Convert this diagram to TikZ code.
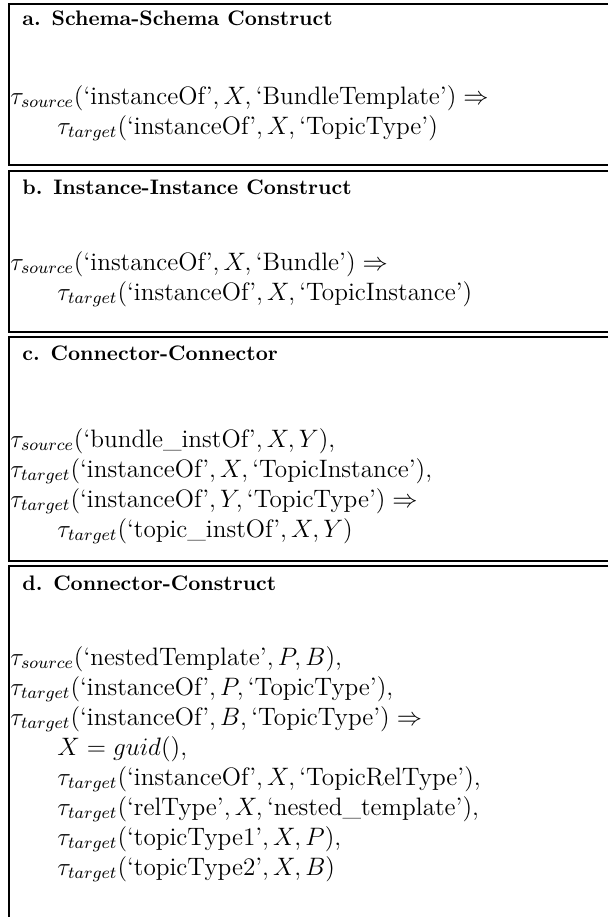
\documentclass[tikz,border=0pt]{standalone}
\usepackage{tikz}
\tikzset{
  frame/.style={line width=0.9pt},
  ttl/.style={anchor=base west, inner sep=0pt, font=\normalsize\bfseries},
  fl/.style={anchor=base west, inner sep=0pt, font=\large}
}
\begin{document}
\begin{tikzpicture}[x=0.476pt,y=-0.476pt]
\useasboundingbox (0,0) rectangle (608,917);
% frames
\draw[frame] (608,4) -- (9,4) -- (9,165) -- (608,165);
\draw[frame] (608,171) -- (9,171) -- (9,332) -- (608,332);
\draw[frame] (608,337) -- (9,337) -- (9,561) -- (608,561);
\draw[frame] (608,566) -- (9,566) -- (9,917);
% a
\node[ttl] (ta) at (22,25) {a. Schema-Schema Construct};
\node[fl] (a1) at (10,104) {$\tau_{source}(\mbox{`instanceOf'}, X, \mbox{`BundleTemplate'}) \Rightarrow$};
\node[fl] (a2) at (57,134) {$\tau_{target}(\mbox{`instanceOf'}, X, \mbox{`TopicType'})$};
% b
\node[ttl] (tb) at (22,194) {b. Instance-Instance Construct};
\node[fl] (b1) at (10,270) {$\tau_{source}(\mbox{`instanceOf'}, X, \mbox{`Bundle'}) \Rightarrow$};
\node[fl] (b2) at (57,300) {$\tau_{target}(\mbox{`instanceOf'}, X, \mbox{`TopicInstance'})$};
% c
\node[ttl] (tc) at (22,360) {c. Connector-Connector};
\node[fl] (c1) at (10,447) {$\tau_{source}(\mbox{`bundle\_instOf'}, X, Y),$};
\node[fl] (c2) at (10,477) {$\tau_{target}(\mbox{`instanceOf'}, X, \mbox{`TopicInstance'}),$};
\node[fl] (c3) at (10,507) {$\tau_{target}(\mbox{`instanceOf'}, Y, \mbox{`TopicType'}) \Rightarrow$};
\node[fl] (c4) at (57,537) {$\tau_{target}(\mbox{`topic\_instOf'}, X, Y)$};
% d
\node[ttl] (td) at (22,590) {d. Connector-Construct};
\node[fl] (d1) at (10,665) {$\tau_{source}(\mbox{`nestedTemplate'}, P, B),$};
\node[fl] (d2) at (10,695) {$\tau_{target}(\mbox{`instanceOf'}, P, \mbox{`TopicType'}),$};
\node[fl] (d3) at (10,725) {$\tau_{target}(\mbox{`instanceOf'}, B, \mbox{`TopicType'}) \Rightarrow$};
\node[fl] (d4) at (57,755) {$X = guid(),$};
\node[fl] (d5) at (57,785) {$\tau_{target}(\mbox{`instanceOf'}, X, \mbox{`TopicRelType'}),$};
\node[fl] (d6) at (57,815) {$\tau_{target}(\mbox{`relType'}, X, \mbox{`nested\_template'}),$};
\node[fl] (d7) at (57,845) {$\tau_{target}(\mbox{`topicType1'}, X, P),$};
\node[fl] (d8) at (57,875) {$\tau_{target}(\mbox{`topicType2'}, X, B)$};
\end{tikzpicture}
\end{document}
